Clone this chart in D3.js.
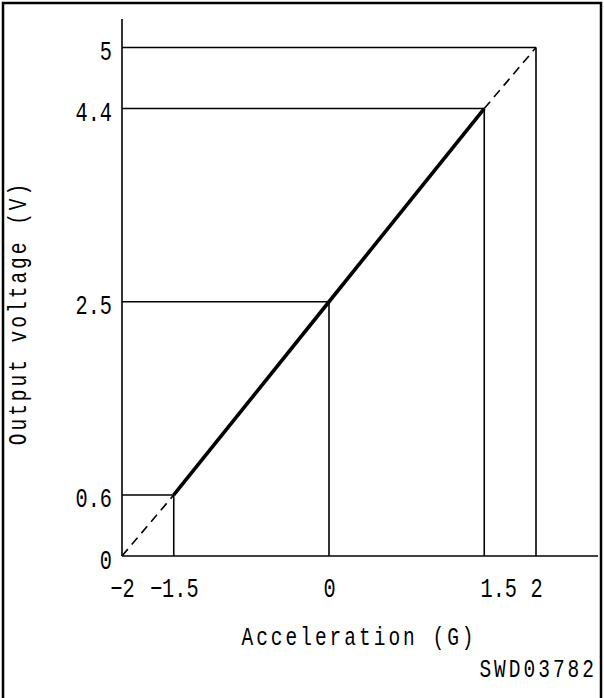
<!DOCTYPE html>
<html>
<head>
<meta charset="utf-8">
<script src="https://cdn.jsdelivr.net/npm/d3@7"></script>
<style>
  body { margin: 0; background: #fff; }
  svg text { font-family: "Liberation Mono", "DejaVu Sans Mono", monospace; fill: #000; }
</style>
</head>
<body>
<svg id="chart" width="604" height="698"></svg>
<script>
// sensor characteristic
const accel = [-2, -1.5, 0, 1.5, 2];
const voltage = [0, 0.6, 2.5, 4.4, 5];
const xTickLabels = ["\u22122", "\u22121.5", "0", "1.5", "2"];
const yTickLabels = ["0", "0.6", "2.5", "4.4", "5"];
const solidFrom = 1, solidTo = 3;   // measured span, rest is dashed
const xEnd = 2.6, yEnd = 5.28;      // how far the axis lines run

const svg = d3.select("#chart");
const sq = 0.75; // narrow drafting-style glyphs

const x = d3.scaleLinear().domain([-2, 2]).range([122, 536]);
const y = d3.scaleLinear().domain([0, 5]).range([556, 47.5]);

// frame
svg.append("rect")
  .attr("x", 3).attr("y", 3)
  .attr("width", 598).attr("height", 720)
  .attr("fill", "none")
  .attr("stroke", "#000")
  .attr("stroke-width", 2.5);

// axis lines
svg.append("line")
  .attr("x1", x(-2)).attr("x2", x(-2))
  .attr("y1", y(0)).attr("y2", y(yEnd))
  .attr("stroke", "#000").attr("stroke-width", 1.6);
svg.append("line")
  .attr("x1", x(-2)).attr("x2", x(xEnd))
  .attr("y1", y(0)).attr("y2", y(0))
  .attr("stroke", "#000").attr("stroke-width", 1.6);

// tick labels
const yAxis = svg.append("g")
  .attr("transform", `translate(${x(-2)},0)`)
  .call(d3.axisLeft(y).tickValues(voltage).tickSize(0).tickFormat((d, i) => yTickLabels[i]));
yAxis.select(".domain").remove();
yAxis.selectAll("text")
  .attr("font-size", 27)
  .attr("font-family", null)
  .attr("text-anchor", "end")
  .attr("x", -10 / sq)
  .attr("dy", null)
  .attr("y", 12)
  .attr("transform", `scale(${sq},1)`);

const xAxis = svg.append("g")
  .attr("transform", `translate(0,${y(0)})`)
  .call(d3.axisBottom(x).tickValues(accel).tickSize(0).tickFormat((d, i) => xTickLabels[i]));
xAxis.select(".domain").remove();
xAxis.selectAll("text")
  .attr("font-size", 27)
  .attr("font-family", null)
  .attr("text-anchor", "middle")
  .attr("x", d => (d === 1.5 ? 14 : 0) / sq)
  .attr("dy", null)
  .attr("y", 41)
  .attr("transform", `scale(${sq},1)`);

// guide lines to each marked point
const pts = accel.map((a, i) => ({ a, v: voltage[i] }));
const guides = svg.append("g").attr("stroke", "#000").attr("stroke-width", 1.6);
pts.slice(1).forEach(p => {
  guides.append("line")
    .attr("x1", x(-2)).attr("x2", x(p.a))
    .attr("y1", y(p.v)).attr("y2", y(p.v));
  guides.append("line")
    .attr("x1", x(p.a)).attr("x2", x(p.a))
    .attr("y1", y(p.v)).attr("y2", y(0));
});

const line = d3.line().x(d => x(d.a)).y(d => y(d.v));

// dashed extension
[pts.slice(0, solidFrom + 1), pts.slice(solidTo)].forEach(seg => {
  svg.append("path")
    .attr("d", line(seg))
    .attr("fill", "none")
    .attr("stroke", "#000")
    .attr("stroke-width", 1.6)
    .attr("stroke-dasharray", "9,6");
});

// characteristic line
svg.append("path")
  .attr("d", line(pts.slice(solidFrom, solidTo + 1)))
  .attr("fill", "none")
  .attr("stroke", "#000")
  .attr("stroke-width", 3.6);

// titles
function title(tf, anchor, txt) {
  svg.append("text")
    .attr("transform", tf + ` scale(${sq},1)`)
    .attr("text-anchor", anchor)
    .attr("font-size", 26)
    .attr("letter-spacing", 4)
    .text(txt);
}
title("translate(359,645)", "middle", "Acceleration (G)");
title("translate(26,313) rotate(-90)", "middle", "Output voltage (V)");
title("translate(597,677)", "end", "SWD03782");
</script>
</body>
</html>
